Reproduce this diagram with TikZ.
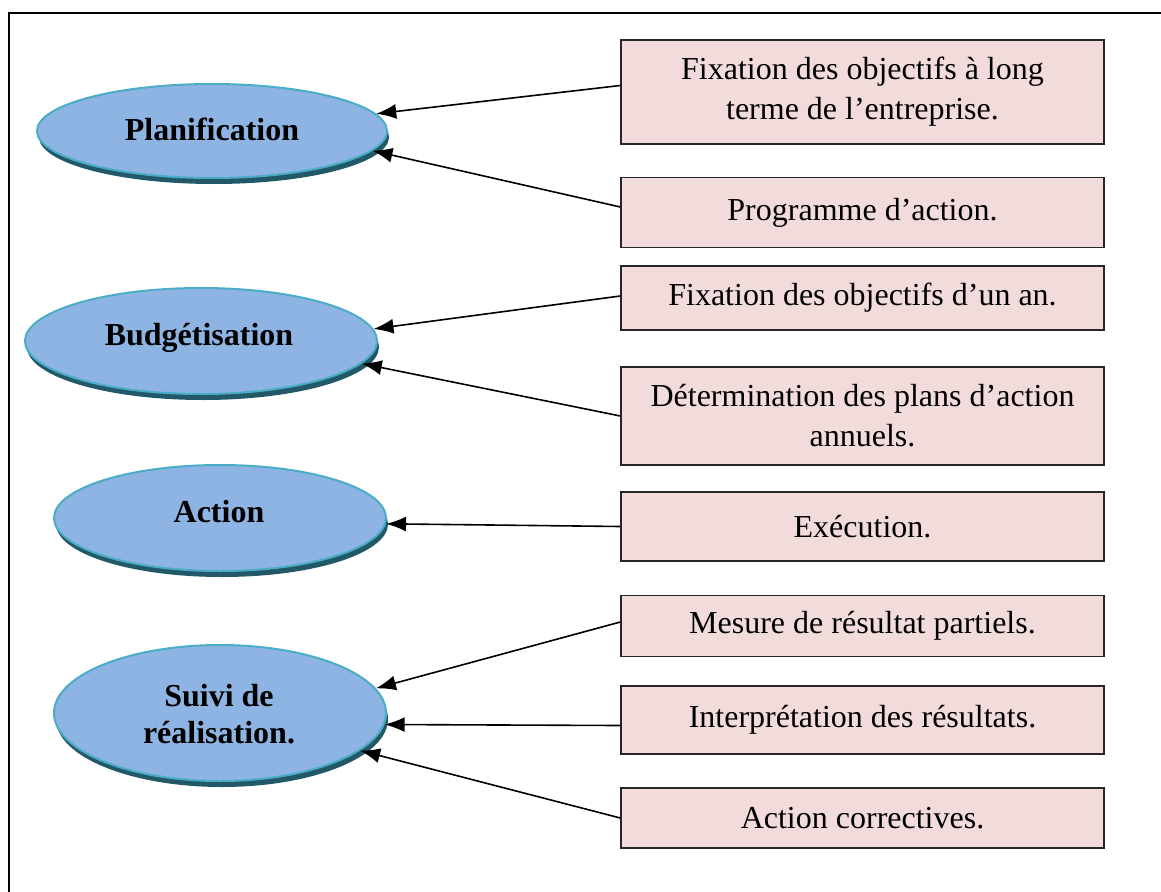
\documentclass[tikz,border=0pt]{standalone}
\usepackage{fontspec}
\setmainfont{Liberation Serif}
\usetikzlibrary{shapes.geometric,arrows.meta,shadows}
\definecolor{ellfill}{HTML}{8EB4E3}
\definecolor{elldraw}{HTML}{4BACC6}
\definecolor{ellshadow}{HTML}{215968}
\definecolor{boxfill}{HTML}{F2DCDB}
\begin{document}
\begin{tikzpicture}[x=1pt,y=-1pt,
  phase/.style={ellipse, draw=elldraw, line width=2pt, fill=ellfill, inner sep=0pt,
    drop shadow={shadow xshift=2pt, shadow yshift=-6pt, fill=ellshadow, opacity=1}},
  phasetext/.style={font=\fontsize{32}{37}\selectfont\bfseries, align=center, inner sep=0pt},
  taskbox/.style={draw=black!85, line width=1.4pt, fill=boxfill, minimum width=483pt, inner sep=0pt,
    align=center, font=\fontsize{32}{40}\selectfont},
  link/.style={line width=1.6pt, -{Latex[length=20pt,width=15pt]}}]
\clip (0,0) rectangle (1161,891);
\useasboundingbox (0,0) rectangle (1161,891);
\draw[line width=1.5pt] (1200,13) -- (9,13) -- (9,950);

% phases
\node[phase, minimum width=350pt, minimum height=94pt]  (e1) at (212,131) {};
\node[phasetext] (t1) at (212,129) {Planification};
\node[phase, minimum width=352pt, minimum height=106pt] (e2) at (201,341) {};
\node[phasetext] (t2) at (199,337.5) {Budgétisation};
\node[phase, minimum width=332pt, minimum height=106pt] (e3) at (220,518) {};
\node[phasetext] (t3) at (219,512) {Action};
\node[phase, minimum width=332pt, minimum height=136pt] (e4) at (220,713) {};
\node[phasetext] (t4) at (219,714) {Suivi de\\réalisation.};

% tasks
\node[taskbox, minimum height=104pt] (b1) at (862.5,92) {Fixation des objectifs à long\\terme de l’entreprise.};
\node[taskbox, minimum height=70pt]  (b2) at (862.5,212.5) {Programme d’action.};
\node[taskbox, minimum height=64pt]  (b3) at (862.5,298) {Fixation des objectifs d’un an.};
\node[taskbox, minimum height=98pt]  (b4) at (862.5,416) {Détermination des plans d’action\\annuels.};
\node[taskbox, minimum height=69pt]  (b5) at (862.5,526.5) {Exécution.};
\node[taskbox, minimum height=61pt]  (b6) at (862.5,626) {Mesure de résultat partiels.};
\node[taskbox, minimum height=68pt]  (b7) at (862.5,720) {Interprétation des résultats.};
\node[taskbox, minimum height=60pt]  (b8) at (862.5,818) {Action correctives.};

% links
\draw[link] ([yshift=6.5pt]b1.west) -- (e1.6.7);
\draw[link] ([yshift=5.5pt]b2.west) -- (e1.-7.3);
\draw[link] ([yshift=2pt]b3.west) -- (e2.4.7);
\draw[link] (b4.west) -- (e2.-8.5);
\draw[link] (b5.west) -- (e3.-2.5);
\draw[link] ([yshift=4pt]b6.west) -- (e4.9.3);
\draw[link] ([yshift=-5.5pt]b7.west) -- (e4.-4.2);
\draw[link] (b8.west) -- (e4.-15.5);
\end{tikzpicture}
\end{document}
